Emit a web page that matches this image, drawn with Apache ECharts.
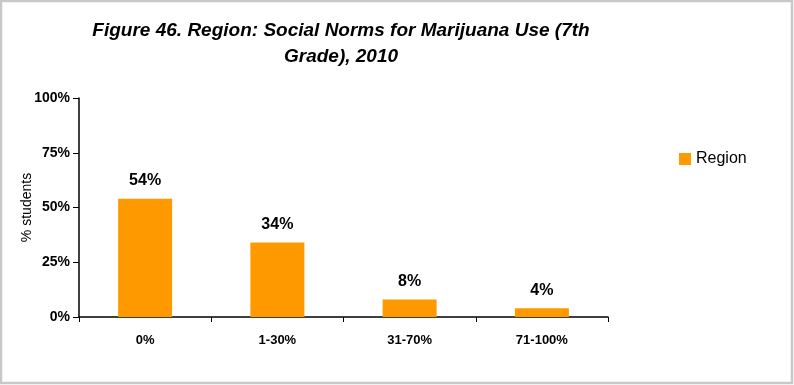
<!DOCTYPE html>
<html>
<head>
<meta charset="utf-8">
<script src="https://cdn.jsdelivr.net/npm/echarts@6/dist/echarts.min.js"></script>
<style>
  html, body { margin: 0; padding: 0; background: #fff; }
  #chart { width: 794px; height: 385px; }
</style>
</head>
<body>
<div id="chart"></div>
<script>
// Share of 7th graders choosing each answer band
const categories = ['0%', '1-30%', '31-70%', '71-100%'];
const regionValues = [54, 34, 8, 4];
const yTicks = [0, 25, 50, 75, 100];

const chart = echarts.init(document.getElementById('chart'), null, { renderer: 'canvas' });

const axisFont = 'Liberation Sans, Arial, sans-serif';

chart.setOption({
  backgroundColor: '#ffffff',
  animation: false,
  title: {
    text: 'Figure 46. Region: Social Norms for Marijuana Use (7th\nGrade), 2010',
    left: 336,
    textAlign: 'center',
    top: 13,
    textStyle: {
      fontFamily: 'Liberation Sans, Arial, sans-serif',
      fontStyle: 'italic',
      fontWeight: 'bold',
      fontSize: 19,
      lineHeight: 26,
      color: '#000'
    }
  },
  legend: {
    left: 679,
    top: 151,
    padding: 0,
    itemWidth: 12,
    itemHeight: 12,
    icon: 'rect',
    data: ['Region'],
    textStyle: { fontFamily: axisFont, fontSize: 16, color: '#000' }
  },
  grid: { left: 79, top: 98, right: 186, bottom: 68, containLabel: false },
  xAxis: {
    type: 'category',
    data: categories,
    axisLine: { lineStyle: { color: '#000', width: 1.5 } },
    axisTick: { show: true, length: 5, lineStyle: { color: '#000' } },
    axisLabel: {
      margin: 17,
      fontFamily: axisFont,
      fontWeight: 'bold',
      fontSize: 13,
      color: '#000'
    }
  },
  yAxis: {
    type: 'value',
    min: yTicks[0],
    max: yTicks[yTicks.length - 1],
    interval: yTicks[1] - yTicks[0],
    name: '% students',
    nameLocation: 'middle',
    nameGap: 45,
    nameMoveOverlap: false,
    nameRotate: 90,
    nameTextStyle: { fontFamily: axisFont, fontSize: 14, color: '#000' },
    axisLine: { show: true, lineStyle: { color: '#000', width: 1.5 } },
    axisTick: { show: true, length: 6, lineStyle: { color: '#000' } },
    splitLine: { show: false },
    axisLabel: {
      margin: 9,
      formatter: '{value}%',
      fontFamily: axisFont,
      fontWeight: 'bold',
      fontSize: 14,
      color: '#000'
    }
  },
  series: [{
    name: 'Region',
    type: 'bar',
    data: regionValues,
    barWidth: 54,
    itemStyle: { color: '#FF9900' },
    label: {
      show: true,
      position: 'top',
      distance: 10,
      formatter: '{c}%',
      fontFamily: axisFont,
      fontWeight: 'bold',
      fontSize: 16,
      color: '#000'
    }
  }],
  graphic: [{
    type: 'rect',
    shape: { x: 1, y: 1, width: 791, height: 382 },
    style: { fill: 'none', stroke: '#c8c8c8', lineWidth: 2.5 },
    silent: true
  }]
});
</script>
</body>
</html>
